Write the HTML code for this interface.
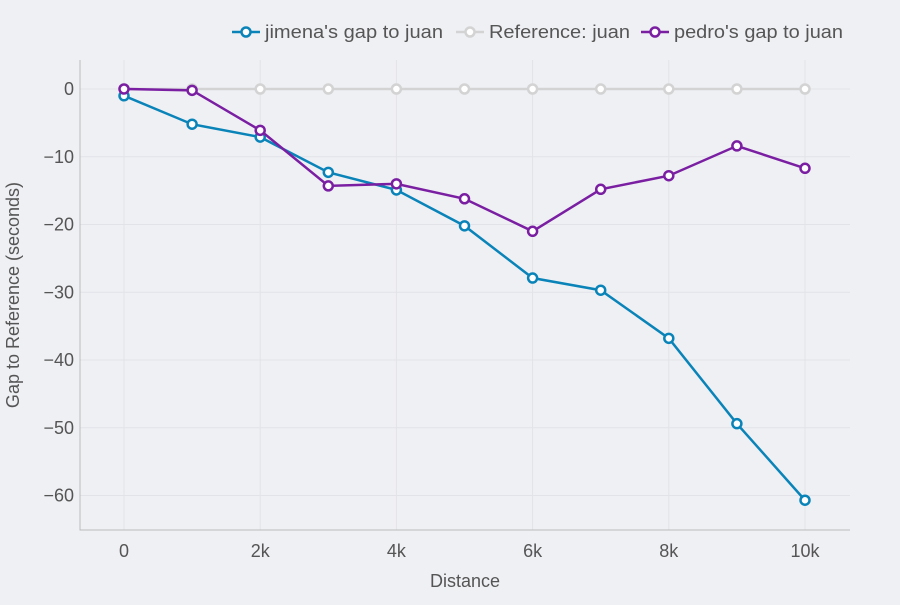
<!DOCTYPE html>
<html><head><meta charset="utf-8"><style>
body{margin:0;background:#eff0f4;}
svg{font-family:"Liberation Sans",Arial,sans-serif;}
</style></head><body>
<svg id="chart" width="900" height="600">
<rect x="0" y="0" width="900" height="600" fill="#eff0f4"/>
<g id="grid"></g>
<g id="axes"></g>
<g id="series"></g>
<g id="legend"></g>
<text x="465" y="587" text-anchor="middle" font-size="18" fill="#555">Distance</text>
<text transform="translate(19,295) rotate(-90)" text-anchor="middle" font-size="18" fill="#555">Gap to Reference (seconds)</text>
</svg>
<script>
const distances=[0,1000,2000,3000,4000,5000,6000,7000,8000,9000,10000];
const jimena=[-1.0,-5.2,-7.1,-12.3,-14.9,-20.2,-27.9,-29.7,-36.8,-49.4,-60.7];
const reference=[0,0,0,0,0,0,0,0,0,0,0];
const pedro=[0,-0.2,-6.1,-14.3,-14.0,-16.2,-21.0,-14.8,-12.8,-8.4,-11.7];
const xTicks=[0,2000,4000,6000,8000,10000];
const xTickLabels=["0","2k","4k","6k","8k","10k"];
const yTicks=[0,-10,-20,-30,-40,-50,-60];
const yTickLabels=["0","−10","−20","−30","−40","−50","−60"];
const seriesNames=["jimena's gap to juan","Reference: juan","pedro's gap to juan"];

const NS="http://www.w3.org/2000/svg";
const L=80,R=850,T=60,B=530;
function xs(v){return 124+(v/10000)*(805-124);}
function ys(v){return 89+(v/-60)*(495.5-89);}
function mk(tag,attrs,parent){const e=document.createElementNS(NS,tag);for(const k in attrs)e.setAttribute(k,attrs[k]);parent.appendChild(e);return e;}
const grid=document.getElementById('grid'),axes=document.getElementById('axes'),ser=document.getElementById('series'),leg=document.getElementById('legend');

xTicks.forEach((t,i)=>{
  const l=mk('line',{x1:xs(t),x2:xs(t),y1:T,y2:B,stroke:'#e2e3e8','stroke-width':1},grid);
  
  
  const tx=mk('text',{x:xs(t),y:557,'text-anchor':'middle','font-size':18,fill:'#555'},axes);
  tx.textContent=xTickLabels[i];
  
  
});
yTicks.forEach((t,i)=>{
  const l=mk('line',{x1:L,x2:R,y1:ys(t),y2:ys(t),stroke:'#e2e3e8','stroke-width':1},grid);
  
  
  const tx=mk('text',{x:74,y:ys(t)+6,'text-anchor':'end','font-size':18,fill:'#555'},axes);
  tx.textContent=yTickLabels[i];
  
  
});
const ax=mk('path',{d:`M${L},${T}V${B}H${R}`,fill:'none',stroke:'#bbb','stroke-width':1},axes);



const defs=[[reference,'#d3d3d3','reference-juan'],[jimena,'#0a84b8','jimena-gap'],[pedro,'#7b1fa2','pedro-gap']];
defs.forEach(([vals,c,n])=>{
  const g=mk('g',{},ser);
  
  
  const p=mk('polyline',{points:vals.map((v,i)=>xs(distances[i])+','+ys(v)).join(' '),fill:'none',stroke:c,'stroke-width':2.5},g);
  
  
  vals.forEach((v,i)=>{
    const m=mk('circle',{cx:xs(distances[i]),cy:ys(v),r:4.5,fill:'#fff',stroke:c,'stroke-width':2.5},g);
    
    
  });
});

const legItems=[[seriesNames[0],'#0a84b8',232,178],[seriesNames[1],'#d3d3d3',456,141],[seriesNames[2],'#7b1fa2',641,169]];
legItems.forEach(([name,c,x,w])=>{
  const g=mk('g',{},leg);
  
  
  mk('line',{x1:x,x2:x+28,y1:32,y2:32,stroke:c,'stroke-width':2.5},g);
  mk('circle',{cx:x+14,cy:32,r:4.5,fill:'#fff',stroke:c,'stroke-width':2.5},g);
  const t=mk('text',{x:x+33,y:38,'font-size':18,fill:'#555',textLength:w,lengthAdjust:'spacingAndGlyphs'},g);
  t.textContent=name;
});
</script>
</body></html>
